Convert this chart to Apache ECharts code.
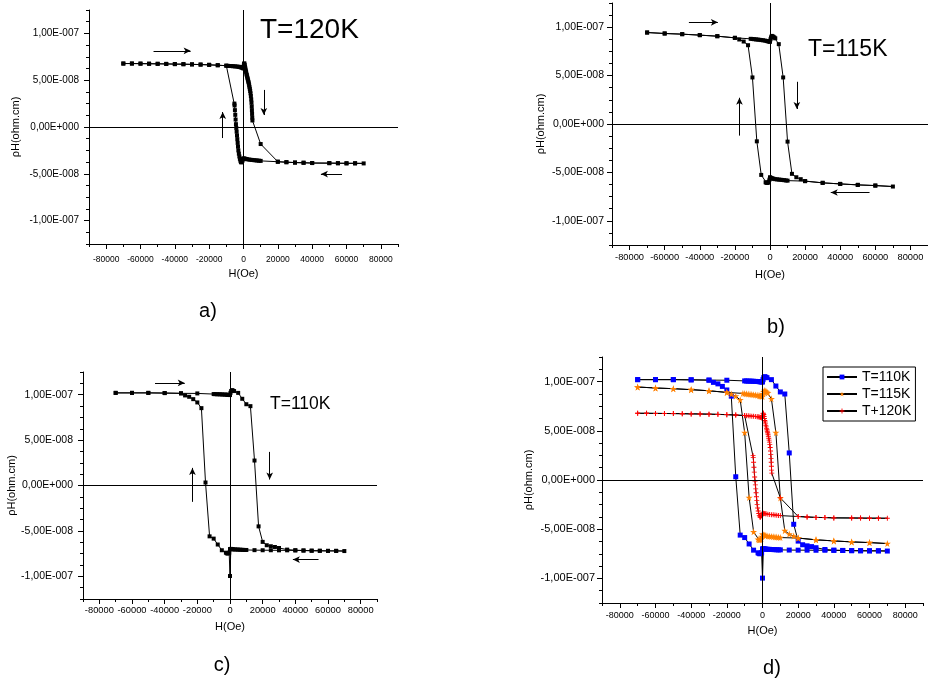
<!DOCTYPE html>
<html><head><meta charset="utf-8">
<script src="https://cdn.jsdelivr.net/npm/echarts@6/dist/echarts.min.js"></script>
<style>html,body{margin:0;padding:0;background:#fff}#c{width:928px;height:681px}</style>
</head><body><div id="c"></div>
<script>
// ---------- DATA (H in Oe, rhoH in ohm.cm), in sweep order ----------
const T120 = [
 [-70000,6.78e-8],[-65000,6.78e-8],[-60000,6.77e-8],[-55000,6.76e-8],[-50000,6.75e-8],[-45000,6.74e-8],[-40000,6.72e-8],[-35000,6.71e-8],[-30000,6.69e-8],[-25000,6.67e-8],[-20000,6.64e-8],[-15000,6.60e-8],[-10000,6.55e-8],
 [-9000,6.53e-8],[-8000,6.52e-8],[-7000,6.51e-8],[-6000,6.49e-8],[-5000,6.48e-8],[-4000,6.46e-8],[-3000,6.44e-8],[-2500,6.42e-8],[-2000,6.40e-8],[-1500,6.38e-8],[-1000,6.35e-8],[-500,6.30e-8],[0,6.25e-8],
 [150,6.55e-8],[300,6.75e-8],[500,6.80e-8],[700,6.65e-8],[900,6.45e-8],[1100,6.25e-8],[1300,6.05e-8],[1500,5.90e-8],[1700,5.70e-8],[1900,5.55e-8],[2100,5.40e-8],[2300,5.25e-8],[2500,5.10e-8],[2700,4.95e-8],[2900,4.80e-8],[3100,4.65e-8],[3300,4.45e-8],[3500,4.25e-8],[3700,4.05e-8],[3900,3.85e-8],[4100,3.60e-8],[4300,3.30e-8],[4500,2.95e-8],[4650,2.60e-8],[4800,2.20e-8],[4900,1.80e-8],[5000,1.40e-8],[5100,1.00e-8],[5200,0.70e-8],
 [10000,-1.82e-8],[20000,-3.71e-8],[25000,-3.76e-8],[30000,-3.80e-8],[35000,-3.82e-8],[40000,-3.85e-8],[50000,-3.86e-8],[55000,-3.87e-8],[60000,-3.88e-8],[65000,-3.88e-8],[70000,-3.89e-8],
 [65000,-3.88e-8],[60000,-3.88e-8],[55000,-3.87e-8],[50000,-3.86e-8],[40000,-3.85e-8],[35000,-3.82e-8],[30000,-3.80e-8],[25000,-3.76e-8],[20000,-3.71e-8],
 [10000,-3.62e-8],[9000,-3.60e-8],[8000,-3.58e-8],[7000,-3.56e-8],[6000,-3.54e-8],[5000,-3.52e-8],[4000,-3.50e-8],[3000,-3.47e-8],[2000,-3.44e-8],[1500,-3.42e-8],[1000,-3.40e-8],[500,-3.37e-8],[0,-3.35e-8],
 [-300,-3.45e-8],[-600,-3.60e-8],[-900,-3.72e-8],[-1200,-3.78e-8],[-1500,-3.75e-8],[-1800,-3.60e-8],[-2100,-3.40e-8],[-2400,-3.15e-8],[-2700,-2.85e-8],[-3000,-2.50e-8],[-3200,-2.10e-8],[-3400,-1.70e-8],[-3600,-1.30e-8],[-3800,-0.90e-8],[-4000,-0.50e-8],[-4200,-0.10e-8],[-4400,0.30e-8],[-4600,0.80e-8],[-4800,1.30e-8],[-5000,1.80e-8],[-5200,2.30e-8],[-5300,2.50e-8],
 [-10000,6.55e-8],[-15000,6.60e-8],[-20000,6.64e-8],[-25000,6.67e-8],[-30000,6.69e-8],[-35000,6.71e-8],[-40000,6.72e-8],[-45000,6.74e-8],[-50000,6.75e-8],[-55000,6.76e-8],[-60000,6.77e-8],[-65000,6.78e-8],[-70000,6.78e-8]
];
const T115 = [
 [-70000,9.45e-8],[-60000,9.35e-8],[-50000,9.28e-8],[-40000,9.18e-8],[-30000,9.07e-8],[-20000,8.90e-8],
 [-11000,8.80e-8],[-10000,8.78e-8],[-9000,8.76e-8],[-8000,8.74e-8],[-7000,8.72e-8],[-6000,8.70e-8],[-5000,8.67e-8],[-4000,8.65e-8],[-3000,8.62e-8],[-2000,8.58e-8],[-1500,8.56e-8],[-1000,8.54e-8],[-500,8.52e-8],[0,8.49e-8],
 [300,8.75e-8],[600,8.95e-8],[1000,9.10e-8],[1500,9.05e-8],[2000,9.00e-8],[2500,8.92e-8],[3000,8.85e-8],[5000,8.25e-8],[7500,4.81e-8],[10000,-1.82e-8],[12500,-5.15e-8],[15000,-5.50e-8],[17500,-5.70e-8],[20000,-5.90e-8],[30000,-6.08e-8],[40000,-6.19e-8],[50000,-6.29e-8],[60000,-6.36e-8],[70000,-6.46e-8],
 [60000,-6.36e-8],[50000,-6.29e-8],[40000,-6.19e-8],[30000,-6.08e-8],[20000,-5.90e-8],
 [10000,-5.85e-8],[9000,-5.83e-8],[8000,-5.80e-8],[7000,-5.78e-8],[6000,-5.76e-8],[5000,-5.74e-8],[4000,-5.72e-8],[3000,-5.70e-8],[2000,-5.66e-8],[1500,-5.64e-8],[1000,-5.60e-8],[500,-5.56e-8],[0,-5.50e-8],
 [-300,-5.75e-8],[-600,-5.95e-8],[-1000,-6.05e-8],[-1500,-6.08e-8],[-2000,-6.08e-8],[-2500,-6.02e-8],[-5000,-5.26e-8],[-7500,-1.79e-8],[-10000,4.81e-8],[-12500,8.14e-8],[-15000,8.52e-8],[-17500,8.73e-8],[-20000,8.90e-8],[-30000,9.07e-8],[-40000,9.18e-8],[-50000,9.28e-8],[-60000,9.35e-8],[-70000,9.45e-8]
];
const T110 = [
 [-70000,10.20e-8],[-60000,10.20e-8],[-50000,10.20e-8],[-40000,10.18e-8],[-30000,10.15e-8],[-20000,10.14e-8],
 [-10000,10.07e-8],[-9000,10.06e-8],[-8000,10.05e-8],[-7000,10.05e-8],[-6000,10.04e-8],[-5000,10.03e-8],[-4000,10.02e-8],[-3000,10.01e-8],[-2000,10.00e-8],[-1500,9.99e-8],[-1000,9.98e-8],[-500,9.97e-8],[0,9.96e-8],
 [300,10.20e-8],[700,10.40e-8],[1200,10.50e-8],[1800,10.45e-8],[2500,10.40e-8],[5000,10.20e-8],[7500,9.55e-8],[10000,8.95e-8],[12500,8.74e-8],[15000,2.75e-8],[17500,-4.50e-8],[20000,-6.21e-8],[22500,-6.58e-8],[25000,-6.69e-8],[27500,-6.77e-8],[30000,-6.88e-8],[35000,-7.06e-8],[40000,-7.13e-8],[45000,-7.16e-8],[50000,-7.18e-8],[55000,-7.19e-8],[60000,-7.20e-8],[65000,-7.20e-8],[70000,-7.22e-8],
 [65000,-7.20e-8],[60000,-7.20e-8],[55000,-7.19e-8],[50000,-7.18e-8],[45000,-7.16e-8],[40000,-7.15e-8],[35000,-7.14e-8],[30000,-7.14e-8],[25000,-7.13e-8],[20000,-7.13e-8],[15000,-7.12e-8],
 [10000,-7.10e-8],[9000,-7.10e-8],[8000,-7.09e-8],[7000,-7.08e-8],[6000,-7.07e-8],[5000,-7.06e-8],[4000,-7.05e-8],[3000,-7.04e-8],[2000,-7.03e-8],[1500,-7.02e-8],[1000,-7.00e-8],[500,-6.98e-8],[0,-7.00e-8],[0,-9.97e-8],
 [-500,-7.40e-8],[-1000,-7.45e-8],[-1500,-7.50e-8],[-2000,-7.45e-8],[-2500,-7.40e-8],[-5000,-7.13e-8],[-7500,-6.50e-8],[-10000,-5.85e-8],[-12500,-5.60e-8],[-15000,0.33e-8],[-17500,8.52e-8],[-20000,9.15e-8],[-22500,9.51e-8],[-25000,9.77e-8],[-27500,9.92e-8],[-30000,10.15e-8],[-40000,10.18e-8],[-50000,10.20e-8],[-60000,10.20e-8],[-70000,10.20e-8]
];
const X_TICKS = [-80000,-60000,-40000,-20000,0,20000,40000,60000,80000];
const Y_TICKS = [-1e-7,-5e-8,0,5e-8,1e-7];
const LEGEND_NAMES = ['T=110K','T=115K','T+120K'];
// sweep-direction arrows [[H1,r1],[H2,r2]] per panel
const ARROWS_A = [[[-52400,8.14e-8],[-30800,8.14e-8]],[[11850,3.96e-8],[11850,1.28e-8]],[[-12100,-1.18e-8],[-12100,1.6e-8]],[[57400,-5.03e-8],[45100,-5.03e-8]]];
const ARROWS_B = [[[-46200,10.5e-8],[-29700,10.5e-8]],[[15300,4.36e-8],[15300,1.55e-8]],[[-17400,-1.2e-8],[-17400,2.71e-8]],[[56700,-7.08e-8],[34600,-7.08e-8]]];
const ARROWS_C = [[[-45900,11.3e-8],[-27700,11.3e-8]],[[24300,3.7e-8],[24300,0.66e-8]],[[-23000,-1.8e-8],[-23000,1.94e-8]],[[54200,-8.16e-8],[38500,-8.16e-8]]];

// ---------- LAYOUT ----------
const FONT = 'Liberation Sans, Arial, sans-serif';
function sci(v){
  if (Math.abs(v) < 1e-20) return '0,00E+000';
  const e = Math.floor(Math.log10(Math.abs(v)) + 1e-9);
  const m = v / Math.pow(10, e);
  return m.toFixed(2).replace('.', ',') + 'E' + (e < 0 ? '-' : '+') + String(Math.abs(e)).padStart(3, '0');
}
const panels = [
  {grid:{left:89, top:10, width:309, height:234}, xl:8.5, yl:10, xm:11, ym:10, xng:24, yng:68, arrows:ARROWS_A},
  {grid:{left:612, top:3, width:317, height:242}, xl:9.3, yl:10.5, xm:8, ym:8, xng:24, yng:66, arrows:ARROWS_B},
  {grid:{left:83, top:372, width:294, height:227}, xl:9.3, yl:10.5, xm:7, ym:10, xng:22, yng:61, arrows:ARROWS_C},
  {grid:{left:602, top:357, width:321, height:246}, xl:9, yl:11, xm:8, ym:7, xng:22, yng:68, arrows:[]}
];
const grids = [], xAxes = [], yAxes = [], series = [];
panels.forEach((p, g) => {
  grids.push(Object.assign({containLabel:false}, p.grid));
  xAxes.push({gridIndex:g, type:'value', position:'bottom', min:-90000, max:90000,
    axisLine:{show:true, onZero:false, lineStyle:{color:'#000', width:1}},
    axisTick:{show:true, customValues:X_TICKS, length:5, lineStyle:{color:'#000', width:1}},
    axisLabel:{customValues:X_TICKS, formatter:v => String(v), fontSize:p.xl, color:'#000', margin:p.xm, fontFamily:FONT},
    splitLine:{show:false}, name:'H(Oe)', nameLocation:'middle', nameGap:p.xng,
    nameTextStyle:{fontSize:11, color:'#000', fontFamily:FONT}});
  xAxes.push({gridIndex:g, type:'value', position:'bottom', min:-90000, max:90000, interval:10000,
    axisLine:{show:false, onZero:false}, axisTick:{show:true, length:3, lineStyle:{color:'#000', width:1}},
    axisLabel:{show:false}, splitLine:{show:false}});
  yAxes.push({gridIndex:g, type:'value', position:'left', min:-1.25e-7, max:1.25e-7,
    axisLine:{show:true, onZero:false, lineStyle:{color:'#000', width:1}},
    axisTick:{show:true, customValues:Y_TICKS, length:5, lineStyle:{color:'#000', width:1}},
    axisLabel:{customValues:Y_TICKS, formatter:sci, fontSize:p.yl, color:'#000', margin:p.ym, fontFamily:FONT},
    splitLine:{show:false}, name:'\u03C1H(ohm.cm)', nameLocation:'middle', nameGap:p.yng,
    nameTextStyle:{fontSize:11, color:'#000', fontFamily:FONT}});
  yAxes.push({gridIndex:g, type:'value', position:'left', min:-1.25e-7, max:1.25e-7, interval:1.25e-8,
    axisLine:{show:false, onZero:false}, axisTick:{show:true, length:3, lineStyle:{color:'#000', width:1}},
    axisLabel:{show:false}, splitLine:{show:false}});
});
function markLines(arrows){
  const d = [{xAxis:0}, {yAxis:0}];
  arrows.forEach(a => d.push([{coord:a[0], symbol:'none'}, {coord:a[1], symbol:'arrow', symbolSize:[5,7]}]));
  return {silent:true, symbol:['none','none'], label:{show:false}, emphasis:{disabled:true},
    lineStyle:{color:'#000', width:1, type:'solid'}, animation:false, data:d};
}
function lineSeries(name, g, data, symbol, size, color, ml){
  const s = {type:'line', name, xAxisIndex:2*g, yAxisIndex:2*g, data, symbol, symbolSize:size,
    showSymbol:true, showAllSymbol:true, animation:false, emphasis:{disabled:true},
    lineStyle:{color:'#000', width:1}, itemStyle:{color}};
  if (ml) s.markLine = ml;
  return s;
}
const STAR = 'path://M50,0 L61,35 L98,35 L68,57 L79,91 L50,70 L21,91 L32,57 L2,35 L39,35 Z';
const PLUS = 'path://M41,0 H59 V41 H100 V59 H59 V100 H41 V59 H0 V41 H41 Z';
series.push(lineSeries('a120', 0, T120, 'rect', 4, '#000', markLines(ARROWS_A)));
series.push(lineSeries('b115', 1, T115, 'rect', 4, '#000', markLines(ARROWS_B)));
series.push(lineSeries('c110', 2, T110, 'rect', 4, '#000', markLines(ARROWS_C)));
series.push(lineSeries(LEGEND_NAMES[0], 3, T110, 'rect', 5, '#0000ff', markLines([])));
series.push(lineSeries(LEGEND_NAMES[1], 3, T115, STAR, 7, '#ff8000', null));
series.push(lineSeries(LEGEND_NAMES[2], 3, T120, PLUS, 5, '#ff0000', null));

function txt(text, x, y, size, align){
  return {type:'text', x, y, silent:true, style:{text, fontSize:size, fontFamily:FONT, fill:'#000', align:align || 'left', verticalAlign:'middle'}};
}
const option = {
  backgroundColor:'#fff', animation:false,
  grid:grids, xAxis:xAxes, yAxis:yAxes, series,
  legend:{data:LEGEND_NAMES, orient:'vertical', left:823, top:367, padding:[3,4,3,3], itemGap:3,
    itemWidth:30, itemHeight:6, textStyle:{fontSize:14, fontFamily:FONT, color:'#000'},
    borderColor:'#000', borderWidth:1, borderRadius:0, backgroundColor:'#fff', selectedMode:false},
  graphic:[
    txt('T=120K', 260, 30, 28), txt('T=115K', 808, 50, 23), txt('T=110K', 270, 404, 17.5),
    txt('a)', 208, 311, 20, 'center'), txt('b)', 776, 327, 20, 'center'),
    txt('c)', 222, 665, 20, 'center'), txt('d)', 772, 668, 20, 'center')
  ]
};
echarts.init(document.getElementById('c'), null, {renderer:'canvas'}).setOption(option);
</script></body></html>
